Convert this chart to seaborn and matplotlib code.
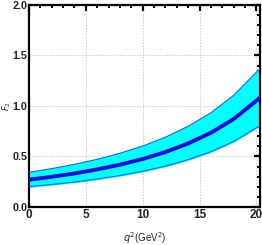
import matplotlib
matplotlib.use("Agg")
import matplotlib.pyplot as plt
from matplotlib.ticker import MultipleLocator, FormatStrFormatter
import pandas as pd
import seaborn as sns

# values
q2 = [0, 2, 4, 6, 8, 10, 12, 14, 16, 18, 20.3]
f2_central = [0.270, 0.299, 0.332, 0.372, 0.419, 0.475, 0.544, 0.629, 0.735, 0.871, 1.08]
f2_upper = [0.343, 0.380, 0.422, 0.472, 0.532, 0.603, 0.691, 0.799, 0.933, 1.106, 1.37]
f2_lower = [0.201, 0.223, 0.247, 0.277, 0.312, 0.354, 0.405, 0.469, 0.548, 0.649, 0.805]

df = pd.DataFrame({'q2': q2, 'central': f2_central, 'upper': f2_upper, 'lower': f2_lower})

sns.set_style('white')
plt.rcParams['font.family'] = ['Liberation Sans Narrow', 'Liberation Sans', 'DejaVu Sans']

fig = plt.figure(figsize=(2.62, 2.45), dpi=100)
ax = fig.add_axes([0.11, 0.155, 0.882, 0.825])

ax.fill_between(df['q2'], df['lower'], df['upper'], color='#00ffff', zorder=2)
sns.lineplot(data=df, x='q2', y='upper', color='#1e64e6', lw=0.8, ax=ax, zorder=3)
sns.lineplot(data=df, x='q2', y='lower', color='#1e64e6', lw=0.8, ax=ax, zorder=3)
sns.lineplot(data=df, x='q2', y='central', color='#0a0ae0', lw=2.8, ax=ax, zorder=4)

ax.set_xlim(0, 20.3)
ax.set_ylim(0, 2.0)
ax.xaxis.set_major_locator(MultipleLocator(5))
ax.xaxis.set_minor_locator(MultipleLocator(1))
ax.yaxis.set_major_locator(MultipleLocator(0.5))
ax.yaxis.set_minor_locator(MultipleLocator(0.1))
ax.yaxis.set_major_formatter(FormatStrFormatter('%.1f'))

ax.grid(True, which='major', color='#cccccc', ls=(0, (1.5, 1.5)), lw=0.7, zorder=0)
ax.tick_params(which='both', direction='in', top=True, right=True, color='black')
ax.tick_params(which='major', length=4, width=1.6, labelsize=8.5, pad=1.5)
ax.tick_params(axis='y', which='major', labelsize=7.8, pad=1)
ax.tick_params(which='minor', length=2.5, width=1.4)
for lab in ax.get_xticklabels() + ax.get_yticklabels():
    lab.set_fontweight('bold')

for sp in ax.spines.values():
    sp.set_color('black')
    sp.set_linewidth(1.6)

ax.set_xlabel(r'$q^2$' + '(GeV$^2$)', fontsize=7)
ax.xaxis.set_label_coords(0.5, -0.115)
ax.set_ylabel(r'$F_2$', fontsize=6)
ax.yaxis.set_label_coords(-0.068, 0.5)

fig.savefig('out.png', dpi=100)
